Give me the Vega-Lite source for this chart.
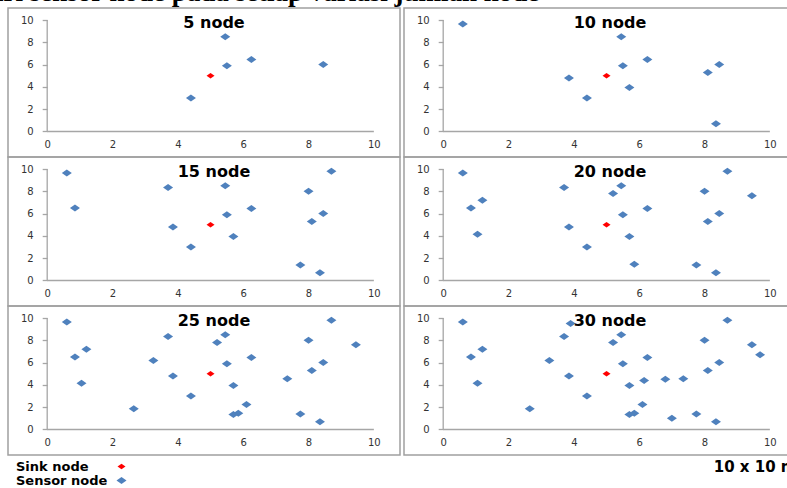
{
  "$schema": "https://vega.github.io/schema/vega-lite/v6.json",
  "background": "white",
  "padding": {"left": -25, "top": -21, "right": 0, "bottom": 0},
  "title": {"text": "dari sensor node pada setiap variasi jumlah node", "anchor": "start", "font": "Liberation Serif", "fontSize": 27, "fontWeight": "bold", "color": "#000000", "offset": -21, "dx": -33, "baseline": "alphabetic", "frame": "group"},
  "data": {"values": [
    {"x": 5.45, "y": 8.5, "type": "Sensor node", "first": 5},
    {"x": 5.5, "y": 5.9, "type": "Sensor node", "first": 5},
    {"x": 6.25, "y": 6.45, "type": "Sensor node", "first": 5},
    {"x": 8.45, "y": 6.0, "type": "Sensor node", "first": 5},
    {"x": 4.4, "y": 3.0, "type": "Sensor node", "first": 5},
    {"x": 0.6, "y": 9.65, "type": "Sensor node", "first": 10},
    {"x": 8.1, "y": 5.3, "type": "Sensor node", "first": 10},
    {"x": 3.85, "y": 4.8, "type": "Sensor node", "first": 10},
    {"x": 5.7, "y": 3.95, "type": "Sensor node", "first": 10},
    {"x": 8.35, "y": 0.7, "type": "Sensor node", "first": 10},
    {"x": 0.85, "y": 6.5, "type": "Sensor node", "first": 15},
    {"x": 3.7, "y": 8.35, "type": "Sensor node", "first": 15},
    {"x": 8.7, "y": 9.8, "type": "Sensor node", "first": 15},
    {"x": 8.0, "y": 8.0, "type": "Sensor node", "first": 15},
    {"x": 7.75, "y": 1.4, "type": "Sensor node", "first": 15},
    {"x": 1.2, "y": 7.2, "type": "Sensor node", "first": 20},
    {"x": 1.05, "y": 4.15, "type": "Sensor node", "first": 20},
    {"x": 5.2, "y": 7.8, "type": "Sensor node", "first": 20},
    {"x": 5.85, "y": 1.45, "type": "Sensor node", "first": 20},
    {"x": 9.45, "y": 7.6, "type": "Sensor node", "first": 20},
    {"x": 3.25, "y": 6.2, "type": "Sensor node", "first": 25},
    {"x": 2.65, "y": 1.85, "type": "Sensor node", "first": 25},
    {"x": 7.35, "y": 4.55, "type": "Sensor node", "first": 25},
    {"x": 6.1, "y": 2.25, "type": "Sensor node", "first": 25},
    {"x": 5.7, "y": 1.35, "type": "Sensor node", "first": 25},
    {"x": 3.9, "y": 9.5, "type": "Sensor node", "first": 30},
    {"x": 9.7, "y": 6.7, "type": "Sensor node", "first": 30},
    {"x": 6.15, "y": 4.4, "type": "Sensor node", "first": 30},
    {"x": 6.8, "y": 4.5, "type": "Sensor node", "first": 30},
    {"x": 7.0, "y": 1.0, "type": "Sensor node", "first": 30},
    {"x": 5.0, "y": 5.0, "type": "Sink node", "first": 0}
  ]},
  "columns": 2,
  "spacing": {"row": 0, "column": 4},
  "bounds": "flush",
  "concat": [
    {
      "title": {"text": "5 node"},
      "width": 392, "height": 149,
      "transform": [{"filter": "datum.first <= 5"}],
      "layer": [
        {"mark": {"type": "point", "filled": true, "opacity": 1, "shape": "M-1,0L0,-0.7L1,0L0,0.7Z"},
         "encoding": {
           "x": {"field": "x", "type": "quantitative", "scale": {"domain": [-1.2, 10.8], "nice": false, "zero": false}, "axis": {"values": [0, 2, 4, 6, 8, 10], "title": null}},
           "y": {"field": "y", "type": "quantitative", "scale": {"domain": [-2.29, 11.08], "nice": false, "zero": false}, "axis": {"values": [0, 2, 4, 6, 8, 10], "title": null}},
           "color": {"field": "type", "type": "nominal", "scale": {"domain": ["Sink node", "Sensor node"], "range": ["#FF0000", "#4F81BD"]}, "legend": {"title": null, "orient": "none", "legendX": 107, "legendY": 452, "symbolType": "M-1,0L0,-0.7L1,0L0,0.7Z", "symbolSize": 70, "symbolStrokeWidth": 0, "labelFont": "DejaVu Sans", "labelFontSize": 13, "labelFontWeight": "bold", "labelColor": "#000000", "labelOffset": -112, "rowPadding": -1, "padding": 0}},
           "size": {"field": "type", "type": "nominal", "scale": {"domain": ["Sink node", "Sensor node"], "range": [64, 100]}, "legend": null}
         }},
        {"data": {"values": [{}]}, "mark": {"type": "rule", "color": "#A6A6A6", "strokeWidth": 1.3}, "encoding": {"x": {"datum": 0}, "y": {"datum": 0}, "y2": {"datum": 10}}},
        {"data": {"values": [{}]}, "mark": {"type": "rule", "color": "#A6A6A6", "strokeWidth": 1.3}, "encoding": {"y": {"datum": 0}, "x": {"datum": 0}, "x2": {"datum": 10}}}
      ]
    },
    {
      "title": {"text": "10 node"},
      "width": 392, "height": 149,
      "transform": [{"filter": "datum.first <= 10"}],
      "layer": [
        {"mark": {"type": "point", "filled": true, "opacity": 1, "shape": "M-1,0L0,-0.7L1,0L0,0.7Z"},
         "encoding": {
           "x": {"field": "x", "type": "quantitative", "scale": {"domain": [-1.2, 10.8], "nice": false, "zero": false}, "axis": {"values": [0, 2, 4, 6, 8, 10], "title": null}},
           "y": {"field": "y", "type": "quantitative", "scale": {"domain": [-2.29, 11.08], "nice": false, "zero": false}, "axis": {"values": [0, 2, 4, 6, 8, 10], "title": null}},
           "color": {"field": "type", "type": "nominal", "scale": {"domain": ["Sink node", "Sensor node"], "range": ["#FF0000", "#4F81BD"]}, "legend": {"title": null, "orient": "none", "legendX": 107, "legendY": 452, "symbolType": "M-1,0L0,-0.7L1,0L0,0.7Z", "symbolSize": 70, "symbolStrokeWidth": 0, "labelFont": "DejaVu Sans", "labelFontSize": 13, "labelFontWeight": "bold", "labelColor": "#000000", "labelOffset": -112, "rowPadding": -1, "padding": 0}},
           "size": {"field": "type", "type": "nominal", "scale": {"domain": ["Sink node", "Sensor node"], "range": [64, 100]}, "legend": null}
         }},
        {"data": {"values": [{}]}, "mark": {"type": "rule", "color": "#A6A6A6", "strokeWidth": 1.3}, "encoding": {"x": {"datum": 0}, "y": {"datum": 0}, "y2": {"datum": 10}}},
        {"data": {"values": [{}]}, "mark": {"type": "rule", "color": "#A6A6A6", "strokeWidth": 1.3}, "encoding": {"y": {"datum": 0}, "x": {"datum": 0}, "x2": {"datum": 10}}}
      ]
    },
    {
      "title": {"text": "15 node"},
      "width": 392, "height": 149,
      "transform": [{"filter": "datum.first <= 15"}],
      "layer": [
        {"mark": {"type": "point", "filled": true, "opacity": 1, "shape": "M-1,0L0,-0.7L1,0L0,0.7Z"},
         "encoding": {
           "x": {"field": "x", "type": "quantitative", "scale": {"domain": [-1.2, 10.8], "nice": false, "zero": false}, "axis": {"values": [0, 2, 4, 6, 8, 10], "title": null}},
           "y": {"field": "y", "type": "quantitative", "scale": {"domain": [-2.29, 11.08], "nice": false, "zero": false}, "axis": {"values": [0, 2, 4, 6, 8, 10], "title": null}},
           "color": {"field": "type", "type": "nominal", "scale": {"domain": ["Sink node", "Sensor node"], "range": ["#FF0000", "#4F81BD"]}, "legend": {"title": null, "orient": "none", "legendX": 107, "legendY": 452, "symbolType": "M-1,0L0,-0.7L1,0L0,0.7Z", "symbolSize": 70, "symbolStrokeWidth": 0, "labelFont": "DejaVu Sans", "labelFontSize": 13, "labelFontWeight": "bold", "labelColor": "#000000", "labelOffset": -112, "rowPadding": -1, "padding": 0}},
           "size": {"field": "type", "type": "nominal", "scale": {"domain": ["Sink node", "Sensor node"], "range": [64, 100]}, "legend": null}
         }},
        {"data": {"values": [{}]}, "mark": {"type": "rule", "color": "#A6A6A6", "strokeWidth": 1.3}, "encoding": {"x": {"datum": 0}, "y": {"datum": 0}, "y2": {"datum": 10}}},
        {"data": {"values": [{}]}, "mark": {"type": "rule", "color": "#A6A6A6", "strokeWidth": 1.3}, "encoding": {"y": {"datum": 0}, "x": {"datum": 0}, "x2": {"datum": 10}}}
      ]
    },
    {
      "title": {"text": "20 node"},
      "width": 392, "height": 149,
      "transform": [{"filter": "datum.first <= 20"}],
      "layer": [
        {"mark": {"type": "point", "filled": true, "opacity": 1, "shape": "M-1,0L0,-0.7L1,0L0,0.7Z"},
         "encoding": {
           "x": {"field": "x", "type": "quantitative", "scale": {"domain": [-1.2, 10.8], "nice": false, "zero": false}, "axis": {"values": [0, 2, 4, 6, 8, 10], "title": null}},
           "y": {"field": "y", "type": "quantitative", "scale": {"domain": [-2.29, 11.08], "nice": false, "zero": false}, "axis": {"values": [0, 2, 4, 6, 8, 10], "title": null}},
           "color": {"field": "type", "type": "nominal", "scale": {"domain": ["Sink node", "Sensor node"], "range": ["#FF0000", "#4F81BD"]}, "legend": {"title": null, "orient": "none", "legendX": 107, "legendY": 452, "symbolType": "M-1,0L0,-0.7L1,0L0,0.7Z", "symbolSize": 70, "symbolStrokeWidth": 0, "labelFont": "DejaVu Sans", "labelFontSize": 13, "labelFontWeight": "bold", "labelColor": "#000000", "labelOffset": -112, "rowPadding": -1, "padding": 0}},
           "size": {"field": "type", "type": "nominal", "scale": {"domain": ["Sink node", "Sensor node"], "range": [64, 100]}, "legend": null}
         }},
        {"data": {"values": [{}]}, "mark": {"type": "rule", "color": "#A6A6A6", "strokeWidth": 1.3}, "encoding": {"x": {"datum": 0}, "y": {"datum": 0}, "y2": {"datum": 10}}},
        {"data": {"values": [{}]}, "mark": {"type": "rule", "color": "#A6A6A6", "strokeWidth": 1.3}, "encoding": {"y": {"datum": 0}, "x": {"datum": 0}, "x2": {"datum": 10}}}
      ]
    },
    {
      "title": {"text": "25 node"},
      "width": 392, "height": 149,
      "transform": [{"filter": "datum.first <= 25"}],
      "layer": [
        {"mark": {"type": "point", "filled": true, "opacity": 1, "shape": "M-1,0L0,-0.7L1,0L0,0.7Z"},
         "encoding": {
           "x": {"field": "x", "type": "quantitative", "scale": {"domain": [-1.2, 10.8], "nice": false, "zero": false}, "axis": {"values": [0, 2, 4, 6, 8, 10], "title": null}},
           "y": {"field": "y", "type": "quantitative", "scale": {"domain": [-2.29, 11.08], "nice": false, "zero": false}, "axis": {"values": [0, 2, 4, 6, 8, 10], "title": null}},
           "color": {"field": "type", "type": "nominal", "scale": {"domain": ["Sink node", "Sensor node"], "range": ["#FF0000", "#4F81BD"]}, "legend": {"title": null, "orient": "none", "legendX": 107, "legendY": 452, "symbolType": "M-1,0L0,-0.7L1,0L0,0.7Z", "symbolSize": 70, "symbolStrokeWidth": 0, "labelFont": "DejaVu Sans", "labelFontSize": 13, "labelFontWeight": "bold", "labelColor": "#000000", "labelOffset": -112, "rowPadding": -1, "padding": 0}},
           "size": {"field": "type", "type": "nominal", "scale": {"domain": ["Sink node", "Sensor node"], "range": [64, 100]}, "legend": null}
         }},
        {"data": {"values": [{}]}, "mark": {"type": "rule", "color": "#A6A6A6", "strokeWidth": 1.3}, "encoding": {"x": {"datum": 0}, "y": {"datum": 0}, "y2": {"datum": 10}}},
        {"data": {"values": [{}]}, "mark": {"type": "rule", "color": "#A6A6A6", "strokeWidth": 1.3}, "encoding": {"y": {"datum": 0}, "x": {"datum": 0}, "x2": {"datum": 10}}}
      ]
    },
    {
      "title": {"text": "30 node"},
      "width": 392, "height": 149,
      "transform": [{"filter": "datum.first <= 30"}],
      "layer": [
        {"mark": {"type": "point", "filled": true, "opacity": 1, "shape": "M-1,0L0,-0.7L1,0L0,0.7Z"},
         "encoding": {
           "x": {"field": "x", "type": "quantitative", "scale": {"domain": [-1.2, 10.8], "nice": false, "zero": false}, "axis": {"values": [0, 2, 4, 6, 8, 10], "title": "10 x 10 m", "titleAnchor": "end", "titleFont": "DejaVu Sans", "titleFontSize": 15, "titleFontWeight": "bold", "titleColor": "#000000", "titlePadding": 12}},
           "y": {"field": "y", "type": "quantitative", "scale": {"domain": [-2.29, 11.08], "nice": false, "zero": false}, "axis": {"values": [0, 2, 4, 6, 8, 10], "title": null}},
           "color": {"field": "type", "type": "nominal", "scale": {"domain": ["Sink node", "Sensor node"], "range": ["#FF0000", "#4F81BD"]}, "legend": {"title": null, "orient": "none", "legendX": 107, "legendY": 452, "symbolType": "M-1,0L0,-0.7L1,0L0,0.7Z", "symbolSize": 70, "symbolStrokeWidth": 0, "labelFont": "DejaVu Sans", "labelFontSize": 13, "labelFontWeight": "bold", "labelColor": "#000000", "labelOffset": -112, "rowPadding": -1, "padding": 0}},
           "size": {"field": "type", "type": "nominal", "scale": {"domain": ["Sink node", "Sensor node"], "range": [64, 100]}, "legend": null}
         }},
        {"data": {"values": [{}]}, "mark": {"type": "rule", "color": "#A6A6A6", "strokeWidth": 1.3}, "encoding": {"x": {"datum": 0}, "y": {"datum": 0}, "y2": {"datum": 10}}},
        {"data": {"values": [{}]}, "mark": {"type": "rule", "color": "#A6A6A6", "strokeWidth": 1.3}, "encoding": {"y": {"datum": 0}, "x": {"datum": 0}, "x2": {"datum": 10}}}
      ]
    }
  ],
  "config": {
    "view": {"stroke": "#A0A0A0", "strokeWidth": 1.5},
    "axis": {"domain": false, "grid": false, "labelFont": "DejaVu Sans", "labelFontSize": 10, "labelColor": "#333333", "tickColor": "#A6A6A6", "tickWidth": 1.3, "labelOverlap": false, "tickCount": 12},
    "axisX": {"ticks": false, "tickSize": 0, "labelPadding": 8, "offset": -25.5, "labelFlush": false},
    "axisY": {"ticks": true, "tickSize": 5, "labelPadding": 9, "offset": -39.2},
    "title": {"font": "DejaVu Sans", "fontSize": 16, "fontWeight": "bold", "color": "#000000", "offset": -23, "dx": 10, "anchor": "middle"}
  }
}
